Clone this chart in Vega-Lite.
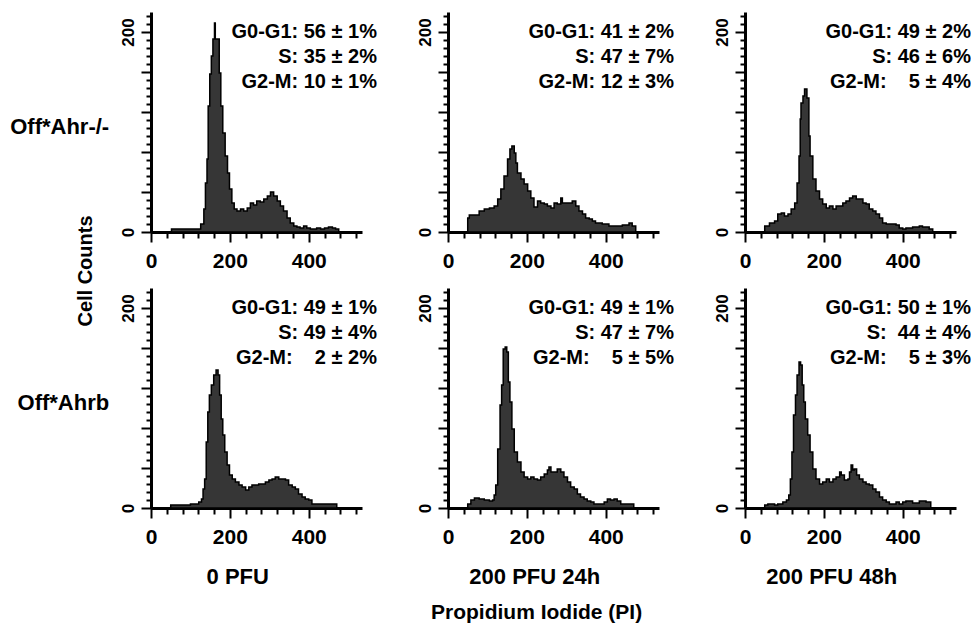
{
  "$schema": "https://vega.github.io/schema/vega-lite/v6.json",
  "padding": {"left": 10, "top": 12, "right": 0, "bottom": 0},
  "autosize": {"type": "pad"},
  "bounds": "flush",
  "title": {"text": "Propidium Iodide (PI)", "orient": "bottom", "anchor": "middle", "dx": 46, "offset": 14, "fontSize": 21, "fontWeight": "bold", "font": "Liberation Sans", "color": "black"},
  "config": {
    "font": "Liberation Sans",
    "view": {"stroke": null},
    "axis": {"domainColor": "black", "domainWidth": 3, "tickColor": "black", "tickWidth": 2, "labelColor": "black", "labelFontWeight": "bold", "labelFont": "Liberation Sans", "grid": false, "labelOverlap": false, "labelFlush": false},
    "text": {"font": "Liberation Sans", "fontWeight": "bold", "color": "black"}
  },
  "data": {"values": [
    {"geno":"Off*Ahr-/-","cond":"0 PFU","kind":"a","label":"G0-G1: 56 ± 1%\nS: 35 ± 2%\nG2-M: 10 ± 1%"},
    {"geno":"Off*Ahr-/-","cond":"200 PFU 24h","kind":"a","label":"G0-G1: 41 ± 2%\nS: 47 ± 7%\nG2-M: 12 ± 3%"},
    {"geno":"Off*Ahr-/-","cond":"200 PFU 48h","kind":"a","label":"G0-G1: 49 ± 2%\nS: 46 ± 6%\nG2-M: \u2007 5 ± 4%"},
    {"geno":"Off*Ahrb","cond":"0 PFU","kind":"a","label":"G0-G1: 49 ± 1%\nS: 49 ± 4%\nG2-M: \u2007 2 ± 2%"},
    {"geno":"Off*Ahrb","cond":"200 PFU 24h","kind":"a","label":"G0-G1: 49 ± 1%\nS: 47 ± 7%\nG2-M: \u2007 5 ± 5%"},
    {"geno":"Off*Ahrb","cond":"200 PFU 48h","kind":"a","label":"G0-G1: 50 ± 1%\nS: \u00a044 ± 4%\nG2-M: \u2007 5 ± 3%"},

    {"geno":"Off*Ahr-/-","cond":"0 PFU","kind":"h","x":0,"n":0},
    {"geno":"Off*Ahr-/-","cond":"0 PFU","kind":"h","x":52,"n":3},
    {"geno":"Off*Ahr-/-","cond":"0 PFU","kind":"h","x":126,"n":8},
    {"geno":"Off*Ahr-/-","cond":"0 PFU","kind":"h","x":134,"n":23},
    {"geno":"Off*Ahr-/-","cond":"0 PFU","kind":"h","x":138,"n":49},
    {"geno":"Off*Ahr-/-","cond":"0 PFU","kind":"h","x":142,"n":73},
    {"geno":"Off*Ahr-/-","cond":"0 PFU","kind":"h","x":145,"n":126},
    {"geno":"Off*Ahr-/-","cond":"0 PFU","kind":"h","x":149,"n":158},
    {"geno":"Off*Ahr-/-","cond":"0 PFU","kind":"h","x":153,"n":176},
    {"geno":"Off*Ahr-/-","cond":"0 PFU","kind":"h","x":157,"n":193},
    {"geno":"Off*Ahr-/-","cond":"0 PFU","kind":"h","x":161,"n":209},
    {"geno":"Off*Ahr-/-","cond":"0 PFU","kind":"h","x":163,"n":193},
    {"geno":"Off*Ahr-/-","cond":"0 PFU","kind":"h","x":173,"n":159},
    {"geno":"Off*Ahr-/-","cond":"0 PFU","kind":"h","x":177,"n":126},
    {"geno":"Off*Ahr-/-","cond":"0 PFU","kind":"h","x":182,"n":99},
    {"geno":"Off*Ahr-/-","cond":"0 PFU","kind":"h","x":188,"n":76},
    {"geno":"Off*Ahr-/-","cond":"0 PFU","kind":"h","x":194,"n":59},
    {"geno":"Off*Ahr-/-","cond":"0 PFU","kind":"h","x":199,"n":43},
    {"geno":"Off*Ahr-/-","cond":"0 PFU","kind":"h","x":205,"n":29},
    {"geno":"Off*Ahr-/-","cond":"0 PFU","kind":"h","x":211,"n":23},
    {"geno":"Off*Ahr-/-","cond":"0 PFU","kind":"h","x":218,"n":21},
    {"geno":"Off*Ahr-/-","cond":"0 PFU","kind":"h","x":227,"n":23},
    {"geno":"Off*Ahr-/-","cond":"0 PFU","kind":"h","x":235,"n":21},
    {"geno":"Off*Ahr-/-","cond":"0 PFU","kind":"h","x":244,"n":24},
    {"geno":"Off*Ahr-/-","cond":"0 PFU","kind":"h","x":252,"n":29},
    {"geno":"Off*Ahr-/-","cond":"0 PFU","kind":"h","x":260,"n":27},
    {"geno":"Off*Ahr-/-","cond":"0 PFU","kind":"h","x":268,"n":31},
    {"geno":"Off*Ahr-/-","cond":"0 PFU","kind":"h","x":277,"n":30},
    {"geno":"Off*Ahr-/-","cond":"0 PFU","kind":"h","x":286,"n":33},
    {"geno":"Off*Ahr-/-","cond":"0 PFU","kind":"h","x":295,"n":36},
    {"geno":"Off*Ahr-/-","cond":"0 PFU","kind":"h","x":303,"n":40},
    {"geno":"Off*Ahr-/-","cond":"0 PFU","kind":"h","x":311,"n":36},
    {"geno":"Off*Ahr-/-","cond":"0 PFU","kind":"h","x":320,"n":31},
    {"geno":"Off*Ahr-/-","cond":"0 PFU","kind":"h","x":328,"n":26},
    {"geno":"Off*Ahr-/-","cond":"0 PFU","kind":"h","x":336,"n":21},
    {"geno":"Off*Ahr-/-","cond":"0 PFU","kind":"h","x":345,"n":14},
    {"geno":"Off*Ahr-/-","cond":"0 PFU","kind":"h","x":353,"n":9},
    {"geno":"Off*Ahr-/-","cond":"0 PFU","kind":"h","x":362,"n":6},
    {"geno":"Off*Ahr-/-","cond":"0 PFU","kind":"h","x":370,"n":5},
    {"geno":"Off*Ahr-/-","cond":"0 PFU","kind":"h","x":378,"n":4},
    {"geno":"Off*Ahr-/-","cond":"0 PFU","kind":"h","x":387,"n":6},
    {"geno":"Off*Ahr-/-","cond":"0 PFU","kind":"h","x":395,"n":4},
    {"geno":"Off*Ahr-/-","cond":"0 PFU","kind":"h","x":404,"n":3},
    {"geno":"Off*Ahr-/-","cond":"0 PFU","kind":"h","x":420,"n":4},
    {"geno":"Off*Ahr-/-","cond":"0 PFU","kind":"h","x":430,"n":3},
    {"geno":"Off*Ahr-/-","cond":"0 PFU","kind":"h","x":440,"n":4},
    {"geno":"Off*Ahr-/-","cond":"0 PFU","kind":"h","x":450,"n":5},
    {"geno":"Off*Ahr-/-","cond":"0 PFU","kind":"h","x":460,"n":4},
    {"geno":"Off*Ahr-/-","cond":"0 PFU","kind":"h","x":468,"n":3},
    {"geno":"Off*Ahr-/-","cond":"0 PFU","kind":"h","x":476,"n":0},

    {"geno":"Off*Ahr-/-","cond":"200 PFU 24h","kind":"h","x":0,"n":0},
    {"geno":"Off*Ahr-/-","cond":"200 PFU 24h","kind":"h","x":50,"n":14},
    {"geno":"Off*Ahr-/-","cond":"200 PFU 24h","kind":"h","x":54,"n":17},
    {"geno":"Off*Ahr-/-","cond":"200 PFU 24h","kind":"h","x":79,"n":21},
    {"geno":"Off*Ahr-/-","cond":"200 PFU 24h","kind":"h","x":92,"n":23},
    {"geno":"Off*Ahr-/-","cond":"200 PFU 24h","kind":"h","x":105,"n":24},
    {"geno":"Off*Ahr-/-","cond":"200 PFU 24h","kind":"h","x":117,"n":26},
    {"geno":"Off*Ahr-/-","cond":"200 PFU 24h","kind":"h","x":126,"n":33},
    {"geno":"Off*Ahr-/-","cond":"200 PFU 24h","kind":"h","x":134,"n":43},
    {"geno":"Off*Ahr-/-","cond":"200 PFU 24h","kind":"h","x":142,"n":56},
    {"geno":"Off*Ahr-/-","cond":"200 PFU 24h","kind":"h","x":151,"n":73},
    {"geno":"Off*Ahr-/-","cond":"200 PFU 24h","kind":"h","x":157,"n":83},
    {"geno":"Off*Ahr-/-","cond":"200 PFU 24h","kind":"h","x":162,"n":86},
    {"geno":"Off*Ahr-/-","cond":"200 PFU 24h","kind":"h","x":168,"n":79},
    {"geno":"Off*Ahr-/-","cond":"200 PFU 24h","kind":"h","x":172,"n":69},
    {"geno":"Off*Ahr-/-","cond":"200 PFU 24h","kind":"h","x":176,"n":59},
    {"geno":"Off*Ahr-/-","cond":"200 PFU 24h","kind":"h","x":185,"n":53},
    {"geno":"Off*Ahr-/-","cond":"200 PFU 24h","kind":"h","x":193,"n":48},
    {"geno":"Off*Ahr-/-","cond":"200 PFU 24h","kind":"h","x":202,"n":41},
    {"geno":"Off*Ahr-/-","cond":"200 PFU 24h","kind":"h","x":210,"n":34},
    {"geno":"Off*Ahr-/-","cond":"200 PFU 24h","kind":"h","x":218,"n":25},
    {"geno":"Off*Ahr-/-","cond":"200 PFU 24h","kind":"h","x":227,"n":31},
    {"geno":"Off*Ahr-/-","cond":"200 PFU 24h","kind":"h","x":235,"n":29},
    {"geno":"Off*Ahr-/-","cond":"200 PFU 24h","kind":"h","x":244,"n":28},
    {"geno":"Off*Ahr-/-","cond":"200 PFU 24h","kind":"h","x":252,"n":26},
    {"geno":"Off*Ahr-/-","cond":"200 PFU 24h","kind":"h","x":261,"n":24},
    {"geno":"Off*Ahr-/-","cond":"200 PFU 24h","kind":"h","x":269,"n":29},
    {"geno":"Off*Ahr-/-","cond":"200 PFU 24h","kind":"h","x":277,"n":28},
    {"geno":"Off*Ahr-/-","cond":"200 PFU 24h","kind":"h","x":286,"n":34},
    {"geno":"Off*Ahr-/-","cond":"200 PFU 24h","kind":"h","x":290,"n":29},
    {"geno":"Off*Ahr-/-","cond":"200 PFU 24h","kind":"h","x":307,"n":29},
    {"geno":"Off*Ahr-/-","cond":"200 PFU 24h","kind":"h","x":315,"n":31},
    {"geno":"Off*Ahr-/-","cond":"200 PFU 24h","kind":"h","x":324,"n":26},
    {"geno":"Off*Ahr-/-","cond":"200 PFU 24h","kind":"h","x":332,"n":21},
    {"geno":"Off*Ahr-/-","cond":"200 PFU 24h","kind":"h","x":341,"n":18},
    {"geno":"Off*Ahr-/-","cond":"200 PFU 24h","kind":"h","x":349,"n":14},
    {"geno":"Off*Ahr-/-","cond":"200 PFU 24h","kind":"h","x":358,"n":13},
    {"geno":"Off*Ahr-/-","cond":"200 PFU 24h","kind":"h","x":366,"n":11},
    {"geno":"Off*Ahr-/-","cond":"200 PFU 24h","kind":"h","x":374,"n":9},
    {"geno":"Off*Ahr-/-","cond":"200 PFU 24h","kind":"h","x":391,"n":8},
    {"geno":"Off*Ahr-/-","cond":"200 PFU 24h","kind":"h","x":408,"n":6},
    {"geno":"Off*Ahr-/-","cond":"200 PFU 24h","kind":"h","x":442,"n":7},
    {"geno":"Off*Ahr-/-","cond":"200 PFU 24h","kind":"h","x":459,"n":9},
    {"geno":"Off*Ahr-/-","cond":"200 PFU 24h","kind":"h","x":467,"n":6},
    {"geno":"Off*Ahr-/-","cond":"200 PFU 24h","kind":"h","x":476,"n":0},

    {"geno":"Off*Ahr-/-","cond":"200 PFU 48h","kind":"h","x":0,"n":0},
    {"geno":"Off*Ahr-/-","cond":"200 PFU 48h","kind":"h","x":50,"n":6},
    {"geno":"Off*Ahr-/-","cond":"200 PFU 48h","kind":"h","x":62,"n":9},
    {"geno":"Off*Ahr-/-","cond":"200 PFU 48h","kind":"h","x":75,"n":11},
    {"geno":"Off*Ahr-/-","cond":"200 PFU 48h","kind":"h","x":83,"n":18},
    {"geno":"Off*Ahr-/-","cond":"200 PFU 48h","kind":"h","x":92,"n":19},
    {"geno":"Off*Ahr-/-","cond":"200 PFU 48h","kind":"h","x":100,"n":16},
    {"geno":"Off*Ahr-/-","cond":"200 PFU 48h","kind":"h","x":109,"n":18},
    {"geno":"Off*Ahr-/-","cond":"200 PFU 48h","kind":"h","x":117,"n":23},
    {"geno":"Off*Ahr-/-","cond":"200 PFU 48h","kind":"h","x":126,"n":29},
    {"geno":"Off*Ahr-/-","cond":"200 PFU 48h","kind":"h","x":132,"n":49},
    {"geno":"Off*Ahr-/-","cond":"200 PFU 48h","kind":"h","x":137,"n":76},
    {"geno":"Off*Ahr-/-","cond":"200 PFU 48h","kind":"h","x":140,"n":113},
    {"geno":"Off*Ahr-/-","cond":"200 PFU 48h","kind":"h","x":142,"n":129},
    {"geno":"Off*Ahr-/-","cond":"200 PFU 48h","kind":"h","x":147,"n":136},
    {"geno":"Off*Ahr-/-","cond":"200 PFU 48h","kind":"h","x":151,"n":143},
    {"geno":"Off*Ahr-/-","cond":"200 PFU 48h","kind":"h","x":157,"n":134},
    {"geno":"Off*Ahr-/-","cond":"200 PFU 48h","kind":"h","x":162,"n":96},
    {"geno":"Off*Ahr-/-","cond":"200 PFU 48h","kind":"h","x":165,"n":76},
    {"geno":"Off*Ahr-/-","cond":"200 PFU 48h","kind":"h","x":172,"n":53},
    {"geno":"Off*Ahr-/-","cond":"200 PFU 48h","kind":"h","x":180,"n":41},
    {"geno":"Off*Ahr-/-","cond":"200 PFU 48h","kind":"h","x":189,"n":33},
    {"geno":"Off*Ahr-/-","cond":"200 PFU 48h","kind":"h","x":197,"n":28},
    {"geno":"Off*Ahr-/-","cond":"200 PFU 48h","kind":"h","x":206,"n":24},
    {"geno":"Off*Ahr-/-","cond":"200 PFU 48h","kind":"h","x":214,"n":26},
    {"geno":"Off*Ahr-/-","cond":"200 PFU 48h","kind":"h","x":223,"n":23},
    {"geno":"Off*Ahr-/-","cond":"200 PFU 48h","kind":"h","x":231,"n":26},
    {"geno":"Off*Ahr-/-","cond":"200 PFU 48h","kind":"h","x":248,"n":29},
    {"geno":"Off*Ahr-/-","cond":"200 PFU 48h","kind":"h","x":256,"n":31},
    {"geno":"Off*Ahr-/-","cond":"200 PFU 48h","kind":"h","x":265,"n":34},
    {"geno":"Off*Ahr-/-","cond":"200 PFU 48h","kind":"h","x":273,"n":36},
    {"geno":"Off*Ahr-/-","cond":"200 PFU 48h","kind":"h","x":282,"n":33},
    {"geno":"Off*Ahr-/-","cond":"200 PFU 48h","kind":"h","x":299,"n":29},
    {"geno":"Off*Ahr-/-","cond":"200 PFU 48h","kind":"h","x":307,"n":28},
    {"geno":"Off*Ahr-/-","cond":"200 PFU 48h","kind":"h","x":315,"n":23},
    {"geno":"Off*Ahr-/-","cond":"200 PFU 48h","kind":"h","x":324,"n":21},
    {"geno":"Off*Ahr-/-","cond":"200 PFU 48h","kind":"h","x":332,"n":18},
    {"geno":"Off*Ahr-/-","cond":"200 PFU 48h","kind":"h","x":341,"n":14},
    {"geno":"Off*Ahr-/-","cond":"200 PFU 48h","kind":"h","x":349,"n":9},
    {"geno":"Off*Ahr-/-","cond":"200 PFU 48h","kind":"h","x":358,"n":8},
    {"geno":"Off*Ahr-/-","cond":"200 PFU 48h","kind":"h","x":383,"n":7},
    {"geno":"Off*Ahr-/-","cond":"200 PFU 48h","kind":"h","x":391,"n":4},
    {"geno":"Off*Ahr-/-","cond":"200 PFU 48h","kind":"h","x":400,"n":3},
    {"geno":"Off*Ahr-/-","cond":"200 PFU 48h","kind":"h","x":408,"n":4},
    {"geno":"Off*Ahr-/-","cond":"200 PFU 48h","kind":"h","x":425,"n":5},
    {"geno":"Off*Ahr-/-","cond":"200 PFU 48h","kind":"h","x":442,"n":6},
    {"geno":"Off*Ahr-/-","cond":"200 PFU 48h","kind":"h","x":450,"n":5},
    {"geno":"Off*Ahr-/-","cond":"200 PFU 48h","kind":"h","x":467,"n":3},
    {"geno":"Off*Ahr-/-","cond":"200 PFU 48h","kind":"h","x":476,"n":0},

    {"geno":"Off*Ahrb","cond":"0 PFU","kind":"h","x":0,"n":0},
    {"geno":"Off*Ahrb","cond":"0 PFU","kind":"h","x":50,"n":3},
    {"geno":"Off*Ahrb","cond":"0 PFU","kind":"h","x":100,"n":4},
    {"geno":"Off*Ahrb","cond":"0 PFU","kind":"h","x":121,"n":6},
    {"geno":"Off*Ahrb","cond":"0 PFU","kind":"h","x":128,"n":9},
    {"geno":"Off*Ahrb","cond":"0 PFU","kind":"h","x":132,"n":19},
    {"geno":"Off*Ahrb","cond":"0 PFU","kind":"h","x":136,"n":29},
    {"geno":"Off*Ahrb","cond":"0 PFU","kind":"h","x":140,"n":66},
    {"geno":"Off*Ahrb","cond":"0 PFU","kind":"h","x":144,"n":96},
    {"geno":"Off*Ahrb","cond":"0 PFU","kind":"h","x":148,"n":113},
    {"geno":"Off*Ahrb","cond":"0 PFU","kind":"h","x":153,"n":123},
    {"geno":"Off*Ahrb","cond":"0 PFU","kind":"h","x":159,"n":133},
    {"geno":"Off*Ahrb","cond":"0 PFU","kind":"h","x":165,"n":138},
    {"geno":"Off*Ahrb","cond":"0 PFU","kind":"h","x":170,"n":133},
    {"geno":"Off*Ahrb","cond":"0 PFU","kind":"h","x":174,"n":113},
    {"geno":"Off*Ahrb","cond":"0 PFU","kind":"h","x":178,"n":89},
    {"geno":"Off*Ahrb","cond":"0 PFU","kind":"h","x":182,"n":73},
    {"geno":"Off*Ahrb","cond":"0 PFU","kind":"h","x":187,"n":56},
    {"geno":"Off*Ahrb","cond":"0 PFU","kind":"h","x":193,"n":43},
    {"geno":"Off*Ahrb","cond":"0 PFU","kind":"h","x":199,"n":33},
    {"geno":"Off*Ahrb","cond":"0 PFU","kind":"h","x":206,"n":29},
    {"geno":"Off*Ahrb","cond":"0 PFU","kind":"h","x":214,"n":26},
    {"geno":"Off*Ahrb","cond":"0 PFU","kind":"h","x":223,"n":23},
    {"geno":"Off*Ahrb","cond":"0 PFU","kind":"h","x":231,"n":21},
    {"geno":"Off*Ahrb","cond":"0 PFU","kind":"h","x":240,"n":18},
    {"geno":"Off*Ahrb","cond":"0 PFU","kind":"h","x":248,"n":21},
    {"geno":"Off*Ahrb","cond":"0 PFU","kind":"h","x":256,"n":23},
    {"geno":"Off*Ahrb","cond":"0 PFU","kind":"h","x":273,"n":24},
    {"geno":"Off*Ahrb","cond":"0 PFU","kind":"h","x":290,"n":26},
    {"geno":"Off*Ahrb","cond":"0 PFU","kind":"h","x":299,"n":28},
    {"geno":"Off*Ahrb","cond":"0 PFU","kind":"h","x":307,"n":29},
    {"geno":"Off*Ahrb","cond":"0 PFU","kind":"h","x":315,"n":31},
    {"geno":"Off*Ahrb","cond":"0 PFU","kind":"h","x":324,"n":29},
    {"geno":"Off*Ahrb","cond":"0 PFU","kind":"h","x":341,"n":28},
    {"geno":"Off*Ahrb","cond":"0 PFU","kind":"h","x":349,"n":23},
    {"geno":"Off*Ahrb","cond":"0 PFU","kind":"h","x":358,"n":21},
    {"geno":"Off*Ahrb","cond":"0 PFU","kind":"h","x":366,"n":19},
    {"geno":"Off*Ahrb","cond":"0 PFU","kind":"h","x":374,"n":14},
    {"geno":"Off*Ahrb","cond":"0 PFU","kind":"h","x":383,"n":11},
    {"geno":"Off*Ahrb","cond":"0 PFU","kind":"h","x":391,"n":9},
    {"geno":"Off*Ahrb","cond":"0 PFU","kind":"h","x":400,"n":8},
    {"geno":"Off*Ahrb","cond":"0 PFU","kind":"h","x":408,"n":4},
    {"geno":"Off*Ahrb","cond":"0 PFU","kind":"h","x":471,"n":0},

    {"geno":"Off*Ahrb","cond":"200 PFU 24h","kind":"h","x":0,"n":0},
    {"geno":"Off*Ahrb","cond":"200 PFU 24h","kind":"h","x":50,"n":4},
    {"geno":"Off*Ahrb","cond":"200 PFU 24h","kind":"h","x":58,"n":8},
    {"geno":"Off*Ahrb","cond":"200 PFU 24h","kind":"h","x":67,"n":10},
    {"geno":"Off*Ahrb","cond":"200 PFU 24h","kind":"h","x":79,"n":9},
    {"geno":"Off*Ahrb","cond":"200 PFU 24h","kind":"h","x":92,"n":8},
    {"geno":"Off*Ahrb","cond":"200 PFU 24h","kind":"h","x":105,"n":7},
    {"geno":"Off*Ahrb","cond":"200 PFU 24h","kind":"h","x":113,"n":8},
    {"geno":"Off*Ahrb","cond":"200 PFU 24h","kind":"h","x":117,"n":13},
    {"geno":"Off*Ahrb","cond":"200 PFU 24h","kind":"h","x":121,"n":23},
    {"geno":"Off*Ahrb","cond":"200 PFU 24h","kind":"h","x":126,"n":59},
    {"geno":"Off*Ahrb","cond":"200 PFU 24h","kind":"h","x":132,"n":103},
    {"geno":"Off*Ahrb","cond":"200 PFU 24h","kind":"h","x":136,"n":123},
    {"geno":"Off*Ahrb","cond":"200 PFU 24h","kind":"h","x":140,"n":159},
    {"geno":"Off*Ahrb","cond":"200 PFU 24h","kind":"h","x":145,"n":161},
    {"geno":"Off*Ahrb","cond":"200 PFU 24h","kind":"h","x":149,"n":156},
    {"geno":"Off*Ahrb","cond":"200 PFU 24h","kind":"h","x":153,"n":126},
    {"geno":"Off*Ahrb","cond":"200 PFU 24h","kind":"h","x":157,"n":106},
    {"geno":"Off*Ahrb","cond":"200 PFU 24h","kind":"h","x":162,"n":79},
    {"geno":"Off*Ahrb","cond":"200 PFU 24h","kind":"h","x":168,"n":56},
    {"geno":"Off*Ahrb","cond":"200 PFU 24h","kind":"h","x":176,"n":46},
    {"geno":"Off*Ahrb","cond":"200 PFU 24h","kind":"h","x":185,"n":36},
    {"geno":"Off*Ahrb","cond":"200 PFU 24h","kind":"h","x":193,"n":31},
    {"geno":"Off*Ahrb","cond":"200 PFU 24h","kind":"h","x":202,"n":29},
    {"geno":"Off*Ahrb","cond":"200 PFU 24h","kind":"h","x":210,"n":31},
    {"geno":"Off*Ahrb","cond":"200 PFU 24h","kind":"h","x":218,"n":29},
    {"geno":"Off*Ahrb","cond":"200 PFU 24h","kind":"h","x":227,"n":28},
    {"geno":"Off*Ahrb","cond":"200 PFU 24h","kind":"h","x":235,"n":31},
    {"geno":"Off*Ahrb","cond":"200 PFU 24h","kind":"h","x":244,"n":34},
    {"geno":"Off*Ahrb","cond":"200 PFU 24h","kind":"h","x":252,"n":38},
    {"geno":"Off*Ahrb","cond":"200 PFU 24h","kind":"h","x":256,"n":41},
    {"geno":"Off*Ahrb","cond":"200 PFU 24h","kind":"h","x":261,"n":36},
    {"geno":"Off*Ahrb","cond":"200 PFU 24h","kind":"h","x":277,"n":39},
    {"geno":"Off*Ahrb","cond":"200 PFU 24h","kind":"h","x":286,"n":36},
    {"geno":"Off*Ahrb","cond":"200 PFU 24h","kind":"h","x":294,"n":31},
    {"geno":"Off*Ahrb","cond":"200 PFU 24h","kind":"h","x":303,"n":26},
    {"geno":"Off*Ahrb","cond":"200 PFU 24h","kind":"h","x":311,"n":21},
    {"geno":"Off*Ahrb","cond":"200 PFU 24h","kind":"h","x":320,"n":19},
    {"geno":"Off*Ahrb","cond":"200 PFU 24h","kind":"h","x":328,"n":14},
    {"geno":"Off*Ahrb","cond":"200 PFU 24h","kind":"h","x":336,"n":11},
    {"geno":"Off*Ahrb","cond":"200 PFU 24h","kind":"h","x":345,"n":9},
    {"geno":"Off*Ahrb","cond":"200 PFU 24h","kind":"h","x":353,"n":7},
    {"geno":"Off*Ahrb","cond":"200 PFU 24h","kind":"h","x":362,"n":6},
    {"geno":"Off*Ahrb","cond":"200 PFU 24h","kind":"h","x":370,"n":4},
    {"geno":"Off*Ahrb","cond":"200 PFU 24h","kind":"h","x":396,"n":6},
    {"geno":"Off*Ahrb","cond":"200 PFU 24h","kind":"h","x":404,"n":9},
    {"geno":"Off*Ahrb","cond":"200 PFU 24h","kind":"h","x":412,"n":8},
    {"geno":"Off*Ahrb","cond":"200 PFU 24h","kind":"h","x":421,"n":9},
    {"geno":"Off*Ahrb","cond":"200 PFU 24h","kind":"h","x":429,"n":7},
    {"geno":"Off*Ahrb","cond":"200 PFU 24h","kind":"h","x":438,"n":4},
    {"geno":"Off*Ahrb","cond":"200 PFU 24h","kind":"h","x":471,"n":0},

    {"geno":"Off*Ahrb","cond":"200 PFU 48h","kind":"h","x":0,"n":0},
    {"geno":"Off*Ahrb","cond":"200 PFU 48h","kind":"h","x":50,"n":3},
    {"geno":"Off*Ahrb","cond":"200 PFU 48h","kind":"h","x":58,"n":4},
    {"geno":"Off*Ahrb","cond":"200 PFU 48h","kind":"h","x":75,"n":3},
    {"geno":"Off*Ahrb","cond":"200 PFU 48h","kind":"h","x":83,"n":4},
    {"geno":"Off*Ahrb","cond":"200 PFU 48h","kind":"h","x":96,"n":6},
    {"geno":"Off*Ahrb","cond":"200 PFU 48h","kind":"h","x":105,"n":8},
    {"geno":"Off*Ahrb","cond":"200 PFU 48h","kind":"h","x":111,"n":13},
    {"geno":"Off*Ahrb","cond":"200 PFU 48h","kind":"h","x":115,"n":29},
    {"geno":"Off*Ahrb","cond":"200 PFU 48h","kind":"h","x":119,"n":56},
    {"geno":"Off*Ahrb","cond":"200 PFU 48h","kind":"h","x":123,"n":93},
    {"geno":"Off*Ahrb","cond":"200 PFU 48h","kind":"h","x":128,"n":113},
    {"geno":"Off*Ahrb","cond":"200 PFU 48h","kind":"h","x":132,"n":133},
    {"geno":"Off*Ahrb","cond":"200 PFU 48h","kind":"h","x":137,"n":146},
    {"geno":"Off*Ahrb","cond":"200 PFU 48h","kind":"h","x":141,"n":143},
    {"geno":"Off*Ahrb","cond":"200 PFU 48h","kind":"h","x":145,"n":123},
    {"geno":"Off*Ahrb","cond":"200 PFU 48h","kind":"h","x":149,"n":106},
    {"geno":"Off*Ahrb","cond":"200 PFU 48h","kind":"h","x":153,"n":89},
    {"geno":"Off*Ahrb","cond":"200 PFU 48h","kind":"h","x":159,"n":73},
    {"geno":"Off*Ahrb","cond":"200 PFU 48h","kind":"h","x":165,"n":56},
    {"geno":"Off*Ahrb","cond":"200 PFU 48h","kind":"h","x":172,"n":39},
    {"geno":"Off*Ahrb","cond":"200 PFU 48h","kind":"h","x":180,"n":29},
    {"geno":"Off*Ahrb","cond":"200 PFU 48h","kind":"h","x":189,"n":24},
    {"geno":"Off*Ahrb","cond":"200 PFU 48h","kind":"h","x":197,"n":26},
    {"geno":"Off*Ahrb","cond":"200 PFU 48h","kind":"h","x":206,"n":29},
    {"geno":"Off*Ahrb","cond":"200 PFU 48h","kind":"h","x":214,"n":26},
    {"geno":"Off*Ahrb","cond":"200 PFU 48h","kind":"h","x":223,"n":29},
    {"geno":"Off*Ahrb","cond":"200 PFU 48h","kind":"h","x":231,"n":31},
    {"geno":"Off*Ahrb","cond":"200 PFU 48h","kind":"h","x":240,"n":36},
    {"geno":"Off*Ahrb","cond":"200 PFU 48h","kind":"h","x":244,"n":33},
    {"geno":"Off*Ahrb","cond":"200 PFU 48h","kind":"h","x":252,"n":28},
    {"geno":"Off*Ahrb","cond":"200 PFU 48h","kind":"h","x":261,"n":29},
    {"geno":"Off*Ahrb","cond":"200 PFU 48h","kind":"h","x":265,"n":36},
    {"geno":"Off*Ahrb","cond":"200 PFU 48h","kind":"h","x":269,"n":43},
    {"geno":"Off*Ahrb","cond":"200 PFU 48h","kind":"h","x":273,"n":38},
    {"geno":"Off*Ahrb","cond":"200 PFU 48h","kind":"h","x":277,"n":39},
    {"geno":"Off*Ahrb","cond":"200 PFU 48h","kind":"h","x":283,"n":33},
    {"geno":"Off*Ahrb","cond":"200 PFU 48h","kind":"h","x":290,"n":29},
    {"geno":"Off*Ahrb","cond":"200 PFU 48h","kind":"h","x":299,"n":26},
    {"geno":"Off*Ahrb","cond":"200 PFU 48h","kind":"h","x":307,"n":24},
    {"geno":"Off*Ahrb","cond":"200 PFU 48h","kind":"h","x":315,"n":23},
    {"geno":"Off*Ahrb","cond":"200 PFU 48h","kind":"h","x":324,"n":19},
    {"geno":"Off*Ahrb","cond":"200 PFU 48h","kind":"h","x":332,"n":16},
    {"geno":"Off*Ahrb","cond":"200 PFU 48h","kind":"h","x":341,"n":11},
    {"geno":"Off*Ahrb","cond":"200 PFU 48h","kind":"h","x":349,"n":8},
    {"geno":"Off*Ahrb","cond":"200 PFU 48h","kind":"h","x":358,"n":6},
    {"geno":"Off*Ahrb","cond":"200 PFU 48h","kind":"h","x":366,"n":4},
    {"geno":"Off*Ahrb","cond":"200 PFU 48h","kind":"h","x":383,"n":6},
    {"geno":"Off*Ahrb","cond":"200 PFU 48h","kind":"h","x":391,"n":4},
    {"geno":"Off*Ahrb","cond":"200 PFU 48h","kind":"h","x":400,"n":6},
    {"geno":"Off*Ahrb","cond":"200 PFU 48h","kind":"h","x":408,"n":7},
    {"geno":"Off*Ahrb","cond":"200 PFU 48h","kind":"h","x":425,"n":5},
    {"geno":"Off*Ahrb","cond":"200 PFU 48h","kind":"h","x":442,"n":7},
    {"geno":"Off*Ahrb","cond":"200 PFU 48h","kind":"h","x":459,"n":6},
    {"geno":"Off*Ahrb","cond":"200 PFU 48h","kind":"h","x":471,"n":0}
  ]},
  "facet": {
    "row": {"field": "geno", "type": "nominal", "sort": ["Off*Ahr-/-", "Off*Ahrb"], "header": {"labels": false, "title": null}},
    "column": {"field": "cond", "type": "nominal", "sort": ["0 PFU", "200 PFU 24h", "200 PFU 48h"], "header": {"labels": false, "title": null}}
  },
  "spacing": {"row": 56, "column": 86},
  "resolve": {"axis": {"x": "independent", "y": "independent"}},
  "spec": {
    "width": 211,
    "height": 220,
    "resolve": {"axis": {"x": "independent", "y": "independent"}},
    "layer": [
      {
        "transform": [{"filter": "datum.kind === 'h'"}],
        "mark": {"type": "area", "interpolate": "step-after", "fill": "#363636", "stroke": "black", "strokeWidth": 1.5},
        "encoding": {
          "x": {"field": "x", "type": "quantitative", "scale": {"domain": [0, 535], "nice": false}, "title": null,
            "axis": {"orient": "bottom", "values": [0, 200, 400], "tickSize": 10, "labelFontSize": 21, "labelPadding": 8}},
          "y": {"field": "n", "type": "quantitative", "scale": {"domain": [0, 220], "nice": false}, "title": null,
            "axis": {"orient": "left", "values": [0, 40, 80, 120, 160, 200], "labelExpr": "datum.value % 200 === 0 ? datum.label : ''", "tickSize": 10, "labelAngle": 270, "labelFontSize": 17, "labelPadding": 4}}
        }
      },
      {
        "transform": [{"filter": "datum.kind === 'h'"}],
        "mark": {"type": "point", "opacity": 0},
        "encoding": {
          "x": {"field": "x", "type": "quantitative", "scale": {"domain": [0, 535], "nice": false}, "title": null,
            "axis": {"orient": "bottom", "values": [40, 80, 120, 160, 240, 280, 320, 360, 440, 480, 520], "labels": false, "domain": false, "tickSize": 6}},
          "y": {"field": "n", "type": "quantitative", "scale": {"domain": [0, 220], "nice": false}, "title": null,
            "axis": {"orient": "left", "values": [8, 16, 24, 32, 48, 56, 64, 72, 88, 96, 104, 112, 128, 136, 144, 152, 168, 176, 184, 192, 208, 216], "labels": false, "domain": false, "tickSize": 5}}
        }
      },
      {
        "transform": [{"filter": "datum.kind === 'a'"}],
        "mark": {"type": "text", "align": "right", "baseline": "middle", "lineBreak": "\n", "lineHeight": 25, "fontSize": 20},
        "encoding": {
          "x": {"datum": 573, "type": "quantitative", "scale": {"domain": [0, 535], "nice": false}, "axis": null},
          "y": {"datum": 200, "type": "quantitative", "scale": {"domain": [0, 220], "nice": false}, "axis": null},
          "text": {"field": "label"}
        }
      },
      {
        "transform": [{"filter": "datum.kind === 'a' && datum.cond === '0 PFU'"}],
        "mark": {"type": "text", "align": "right", "baseline": "middle", "fontSize": 22},
        "encoding": {
          "x": {"datum": -106, "type": "quantitative", "scale": {"domain": [0, 535], "nice": false}, "axis": null},
          "y": {"datum": 105, "type": "quantitative", "scale": {"domain": [0, 220], "nice": false}, "axis": null},
          "text": {"field": "geno"}
        }
      },
      {
        "transform": [{"filter": "datum.kind === 'a' && datum.geno === 'Off*Ahrb'"}],
        "mark": {"type": "text", "align": "center", "baseline": "middle", "fontSize": 22},
        "encoding": {
          "x": {"datum": 220, "type": "quantitative", "scale": {"domain": [0, 535], "nice": false}, "axis": null},
          "y": {"datum": -69, "type": "quantitative", "scale": {"domain": [0, 220], "nice": false}, "axis": null},
          "text": {"field": "cond"}
        }
      },
      {
        "transform": [{"filter": "datum.kind === 'a' && datum.geno === 'Off*Ahr-/-' && datum.cond === '0 PFU'"}],
        "mark": {"type": "text", "text": "Cell Counts", "angle": 270, "align": "center", "baseline": "middle", "fontSize": 20},
        "encoding": {
          "x": {"datum": -165, "type": "quantitative", "scale": {"domain": [0, 535], "nice": false}, "axis": null},
          "y": {"datum": -39, "type": "quantitative", "scale": {"domain": [0, 220], "nice": false}, "axis": null}
        }
      }
    ]
  }
}
